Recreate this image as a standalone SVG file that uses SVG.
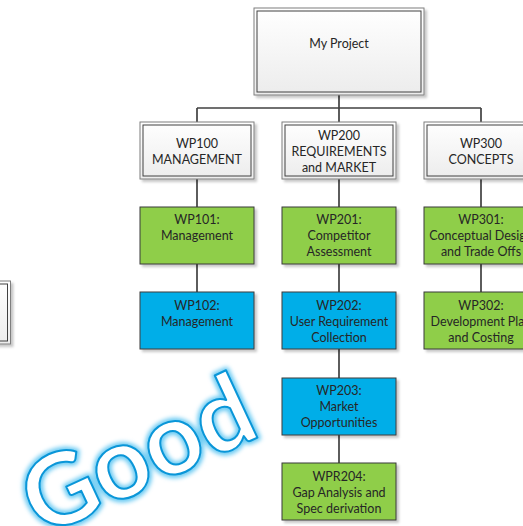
<svg xmlns="http://www.w3.org/2000/svg" width="523" height="526" viewBox="0 0 523 526">
  <style>
    text { font-family: Lato, "Open Sans", "Liberation Sans", sans-serif; font-size: 12.5px; fill: #262626; text-anchor: middle; }
    .conn line { stroke: #404040; stroke-width: 1.7; }
    .outer { fill: url(#hdr); stroke: #7f7f7f; stroke-width: 1; }
    .inner { fill: none; stroke: #404040; stroke-width: 1; }
    .green { fill: #8fce4a; stroke: #3b3b3b; stroke-width: 1; }
    .blue { fill: #06aee8; stroke: #3b3b3b; stroke-width: 1; }
    .good { font-family: Lato, "Open Sans", "Liberation Sans", sans-serif; font-weight: bold; font-size: 100px; text-anchor: start; }
    .goodglow { fill: none; stroke: #6ccbf3; stroke-width: 7; stroke-linejoin: round; }
    .goodmain { fill: #ffffff; stroke: #0a96d8; stroke-width: 2; stroke-linejoin: round; }
  </style>
  <defs>
    <linearGradient id="hdr" x1="0" y1="0" x2="0" y2="1">
      <stop offset="0" stop-color="#ffffff"/>
      <stop offset="1" stop-color="#ececec"/>
    </linearGradient>
    <filter id="sh" x="-10%" y="-10%" width="130%" height="130%">
      <feDropShadow dx="2.5" dy="2.5" stdDeviation="1.2" flood-color="#000" flood-opacity="0.22"/>
    </filter>
    <filter id="glow" x="-20%" y="-20%" width="140%" height="140%">
      <feGaussianBlur stdDeviation="2"/>
    </filter>
  </defs>
  <rect width="523" height="526" fill="#ffffff"/>

  <g class="conn">
    <line x1="339" y1="95" x2="339" y2="122"/>
    <line x1="197" y1="108" x2="481" y2="108"/>
    <line x1="197" y1="108" x2="197" y2="122"/>
    <line x1="481" y1="108" x2="481" y2="122"/>
    <line x1="197" y1="179" x2="197" y2="207"/>
    <line x1="197" y1="264" x2="197" y2="292"/>
    <line x1="339" y1="179" x2="339" y2="207"/>
    <line x1="339" y1="264" x2="339" y2="292"/>
    <line x1="339" y1="349" x2="339" y2="378"/>
    <line x1="339" y1="435" x2="339" y2="463"/>
    <line x1="481" y1="179" x2="481" y2="207"/>
    <line x1="481" y1="264" x2="481" y2="292"/>
  </g>

  <g id="left-partial" filter="url(#sh)">
    <rect class="outer" x="-100" y="281" width="110.5" height="63"/>
    <rect class="inner" x="-97" y="284" width="104.5" height="57"/>
  </g>

  <g id="my-project">
    <g filter="url(#sh)">
      <rect class="outer" x="254" y="8" width="170" height="87"/>
      <rect class="inner" x="257" y="11" width="164" height="81"/>
    </g>
    <text x="339" y="47.5">My Project</text>
  </g>

  <g id="wp100">
    <g filter="url(#sh)">
      <rect class="outer" x="140" y="122" width="114" height="57"/>
      <rect class="inner" x="143" y="125" width="108" height="51"/>
    </g>
    <text x="197" y="147.5">WP100</text>
    <text x="197" y="163.5">MANAGEMENT</text>
  </g>

  <g id="wp200">
    <g filter="url(#sh)">
      <rect class="outer" x="282" y="122" width="114" height="57"/>
      <rect class="inner" x="285" y="125" width="108" height="51"/>
    </g>
    <text x="339" y="139.5">WP200</text>
    <text x="339" y="155.5">REQUIREMENTS</text>
    <text x="339" y="171.5">and MARKET</text>
  </g>

  <g id="wp300">
    <g filter="url(#sh)">
      <rect class="outer" x="424" y="122" width="114" height="57"/>
      <rect class="inner" x="427" y="125" width="108" height="51"/>
    </g>
    <text x="481" y="147.5">WP300</text>
    <text x="481" y="163.5">CONCEPTS</text>
  </g>

  <g id="wp101">
    <rect class="green" x="140" y="207" width="114" height="57" filter="url(#sh)"/>
    <text x="197" y="223.5">WP101:</text>
    <text x="197" y="239.5">Management</text>
  </g>

  <g id="wp201">
    <rect class="green" x="282" y="207" width="114" height="57" filter="url(#sh)"/>
    <text x="339" y="223.5">WP201:</text>
    <text x="339" y="239.5">Competitor</text>
    <text x="339" y="255.5">Assessment</text>
  </g>

  <g id="wp301">
    <rect class="green" x="424" y="207" width="114" height="57" filter="url(#sh)"/>
    <text x="481" y="223.5">WP301:</text>
    <text x="481" y="239.5">Conceptual Design</text>
    <text x="481" y="255.5">and Trade Offs</text>
  </g>

  <g id="wp102">
    <rect class="blue" x="140" y="292" width="114" height="57" filter="url(#sh)"/>
    <text x="197" y="309.5">WP102:</text>
    <text x="197" y="325.5">Management</text>
  </g>

  <g id="wp202">
    <rect class="blue" x="282" y="292" width="114" height="57" filter="url(#sh)"/>
    <text x="339" y="309.5">WP202:</text>
    <text x="339" y="325.5">User Requirement</text>
    <text x="339" y="341.5">Collection</text>
  </g>

  <g id="wp302">
    <rect class="green" x="424" y="292" width="114" height="57" filter="url(#sh)"/>
    <text x="481" y="309.5">WP302:</text>
    <text x="481" y="325.5">Development Plan</text>
    <text x="481" y="341.5">and Costing</text>
  </g>

  <g id="wp203">
    <rect class="blue" x="282" y="378" width="114" height="57" filter="url(#sh)"/>
    <text x="339" y="395">WP203:</text>
    <text x="339" y="411">Market</text>
    <text x="339" y="427">Opportunities</text>
  </g>

  <g id="wpr204">
    <rect class="green" x="282" y="463" width="114" height="57" filter="url(#sh)"/>
    <text x="339" y="481">WPR204:</text>
    <text x="339" y="497">Gap Analysis and</text>
    <text x="339" y="513">Spec derivation</text>
  </g>

  <g id="good-stamp" transform="translate(42,538) rotate(-25)">
    <text class="good goodglow" x="0" y="0" filter="url(#glow)">Good</text>
    <text class="good goodmain" x="0" y="0">Good</text>
  </g>
</svg>
